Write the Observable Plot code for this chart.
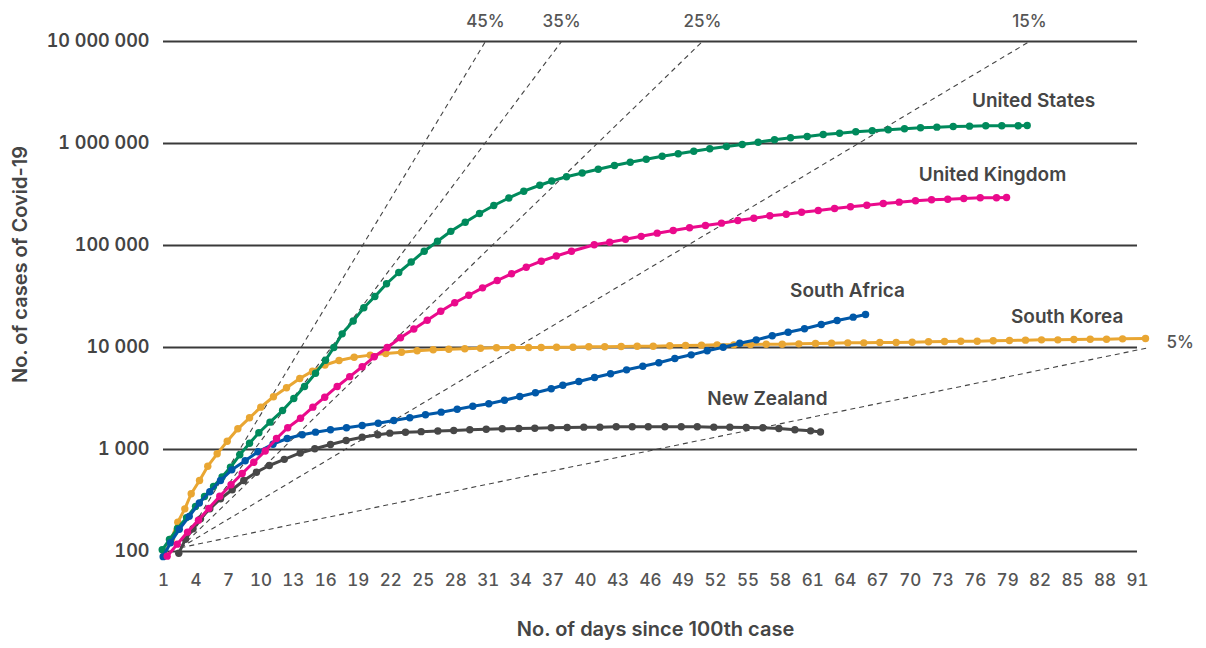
<!DOCTYPE html>
<html>
<head>
<meta charset="utf-8">
<script src="https://cdn.jsdelivr.net/npm/d3@7"></script>
<script src="https://cdn.jsdelivr.net/npm/@observablehq/plot@0.6"></script>
<style>
  html, body { margin: 0; padding: 0; background: #fff; }
  #chart svg { display: block; }
</style>
</head>
<body>
<div id="chart"></div>
<script>
// ---------- data ----------
const countries = ["New Zealand", "South Korea", "United States", "South Africa", "United Kingdom"];
const colors    = ["#474747", "#e9a632", "#008a5c", "#0058a8", "#ea0a8c"];

const usDays = [0.88,1.55,2.29,3.13,3.96,4.79,5.62,6.41,7.19,8.05,8.95,9.81,10.84,12.00,13.04,14.03,15.05,15.97,16.74,17.51,18.53,19.51,20.53,21.61,22.74,23.89,25.09,26.32,27.55,28.88,30.20,31.52,32.91,34.29,35.77,36.88,38.24,39.69,41.17,42.67,44.13,45.61,47.08,48.56,50.00,51.48,53.02,54.48,55.95,57.46,58.94,60.48,61.96,63.47,64.97,66.49,67.97,69.47,70.95,72.46,73.97,75.48,76.98,78.46,79.98,80.81];
const usCases = [104,131,168,215,276,346,434,537,670,887,1153,1459,1854,2410,3162,4150,5600,7500,10000,13610,18200,24490,31620,42170,54340,68850,87900,110200,137700,169100,206000,246700,292400,340800,389900,428700,471800,514100,560000,608300,654600,700300,750500,792700,840800,887800,935700,977900,1030000,1087000,1138000,1172000,1225000,1262000,1303000,1333000,1363000,1394000,1426000,1446000,1469000,1479000,1493000,1493000,1493000,1500000];

const ukDays = [1.34,2.27,3.22,4.23,5.19,6.20,7.24,8.27,9.34,10.40,11.44,12.48,13.66,14.80,15.90,17.05,18.21,19.36,20.47,21.67,22.90,24.13,25.37,26.62,27.91,29.21,30.48,31.84,33.16,34.52,35.91,37.30,38.70,40.80,42.23,43.69,45.14,46.62,48.10,49.61,51.08,52.56,54.07,55.55,57.03,58.54,59.96,61.50,63.01,64.48,65.99,67.51,68.98,70.49,71.97,73.47,74.95,76.47,77.97,78.90];
const ukCases = [90,118,155,203,265,348,452,582,750,966,1282,1636,2028,2600,3258,4150,5176,6471,8110,10000,12450,15180,18530,22700,27480,32510,38460,45380,52840,61240,70150,78880,87900,101600,107700,115000,123000,132100,140300,149300,157100,165600,175800,185300,195500,202800,212000,220300,230600,239600,248500,258200,266100,274200,280600,284500,289100,293800,293800,295800];

const skDays = [1.09,1.74,2.32,2.97,3.56,4.33,5.09,5.96,6.89,7.87,8.95,9.99,11.16,12.37,13.59,14.77,15.92,17.22,18.62,20.10,21.54,22.99,24.44,25.92,27.36,28.84,30.29,31.77,33.25,34.73,35.90,37.32,38.84,40.30,41.77,43.29,44.77,46.25,47.78,49.24,50.71,52.16,53.70,55.24,56.69,58.17,59.71,61.25,62.73,64.23,65.71,67.19,68.70,70.18,71.69,73.17,74.67,76.19,77.67,79.17,80.65,82.13,83.64,85.12,86.63,88.14,89.62,91.74];
const skCases = [94,133,194,262,368,497,686,907,1206,1596,2046,2600,3289,4027,4966,5861,6734,7459,8017,8420,8730,8990,9306,9490,9622,9712,9847,9937,10000,10000,10000,10045,10068,10160,10160,10230,10300,10300,10395,10470,10540,10620,10620,10690,10770,10770,10860,10940,11010,11110,11110,11190,11190,11270,11370,11450,11530,11530,11640,11720,11800,11890,11890,11980,12060,12060,12160,12250];

const saDays = [0.97,1.65,2.46,3.38,4.31,5.28,6.27,7.31,8.55,9.73,11.12,12.43,13.82,15.05,16.43,17.91,19.36,20.84,22.28,23.76,25.21,26.66,28.14,29.58,31.06,32.51,33.92,35.37,36.83,37.90,39.38,40.83,42.31,43.79,45.29,46.77,48.25,49.76,51.24,52.72,54.25,55.77,57.25,58.72,60.23,61.78,63.25,64.73,65.87];
const saCases = [89,122,165,221,299,385,497,632,775,951,1127,1282,1397,1479,1561,1633,1718,1811,1923,2046,2193,2323,2479,2653,2813,3043,3311,3597,3938,4269,4642,5078,5521,6040,6556,7080,7800,8475,9290,10070,11020,11890,13030,14130,15250,16790,18390,19830,21080];

const nzDays = [2.41,3.03,3.73,4.42,5.28,6.27,7.35,8.42,9.59,10.78,12.16,13.63,14.98,16.43,17.88,19.36,20.80,21.91,23.36,24.81,26.35,27.82,29.30,30.82,32.30,33.83,35.31,36.83,38.30,39.84,41.32,42.83,44.31,45.79,47.33,48.84,50.32,51.85,53.33,54.85,56.38,57.86,59.34,60.79,61.71];
const nzCases = [96,132,167,209,262,329,403,497,599,697,801,925,1017,1119,1225,1321,1395,1446,1476,1497,1518,1535,1560,1578,1596,1607,1618,1633,1644,1656,1656,1671,1671,1671,1671,1671,1671,1656,1656,1644,1633,1607,1564,1524,1485];

// growth-rate guide lines (start and end)
const guideLabels   = ["45%", "35%", "25%", "15%", "5%"];
const guideStartDay = 2.57, guideStartCases = 109;
const guideEndDays  = [30.75, 37.78, 50.80, 81.02, 92.11];
const guideEndCases = [1e7, 1e7, 1e7, 1e7, 1e4];

// series end labels
const labelText  = ["United States", "United Kingdom", "South Africa", "South Korea", "New Zealand"];
const labelDays  = [81.4, 77.6, 64.2, 84.5, 56.8];
const labelCases = [2640000, 497000, 36200, 20100, 3160];

const xTicks = [1,4,7,10,13,16,19,22,25,28,31,34,37,40,43,46,49,52,55,58,61,64,67,70,73,76,79,82,85,88,91];
const yTicks = [100, 1000, 10000, 100000, 1000000, 10000000];

// ---------- build tables ----------
const seriesDays  = {"United States": usDays, "United Kingdom": ukDays, "South Korea": skDays, "South Africa": saDays, "New Zealand": nzDays};
const seriesCases = {"United States": usCases, "United Kingdom": ukCases, "South Korea": skCases, "South Africa": saCases, "New Zealand": nzCases};
const rowsFor = c => seriesDays[c].map((d, i) => ({country: c, day: d, cases: seriesCases[c][i]})).filter(r => r.cases != null);

const guides = guideLabels.map((l, i) => ({label: l, x1: guideStartDay, y1: guideStartCases, x2: guideEndDays[i], y2: guideEndCases[i]}));
const labels = labelText.map((t, i) => ({text: t, day: labelDays[i], cases: labelCases[i]}));

const FONT = "Inter, 'Open Sans', sans-serif";
const fmt = d => d3.format(",")(d).replace(/,/g, " ");

const seriesMarks = countries.flatMap(c => {
  const rows = rowsFor(c);
  return [
    Plot.line(rows, {x: "day", y: "cases", stroke: "country", strokeWidth: 3, curve: "linear"}),
    Plot.dot(rows, {x: "day", y: "cases", fill: "country", r: 3.7, stroke: "none"})
  ];
});

const chart = Plot.plot({
  width: 1206,
  height: 648,
  marginLeft: 163,
  marginRight: 69,
  marginTop: 41,
  marginBottom: 97,
  x: {domain: [1, 91]},
  y: {type: "log", domain: [100, 1e7]},
  color: {domain: countries, range: colors},
  style: {fontFamily: FONT, background: "#fff", color: "#444", overflow: "visible"},
  marks: [
    Plot.ruleY(yTicks, {stroke: "#3a3a3a", strokeWidth: 1.8}),
    Plot.link(guides, {x1: "x1", y1: "y1", x2: "x2", y2: "y2", stroke: "#444", strokeWidth: 1.1, strokeDasharray: "5,4"}),
    Plot.text(guides.filter(g => g.y2 >= 1e7), {x: "x2", y: "y2", text: "label", dy: -20, fontSize: 17, fill: "#555", fontWeight: 500, ariaLabel: "pct-labels"}),
    Plot.text(guides.filter(g => g.y2 < 1e7), {x: "x2", y: "y2", text: "label", dx: 17, dy: -5, textAnchor: "start", fontSize: 17, fill: "#555", fontWeight: 500, ariaLabel: "pct-labels"}),
    ...seriesMarks,
    Plot.text(labels, {x: "day", y: "cases", text: "text", fontSize: 19, fontWeight: 600, fill: "#454545", ariaLabel: "series-labels"}),
    Plot.axisX({ticks: xTicks, tickSize: 0, tickPadding: 22, fontSize: 17, fontWeight: 500, fill: "#555", label: null, tickFormat: d => String(d)}),
    Plot.axisY({ticks: yTicks, tickSize: 0, tickPadding: 14, fontSize: 18, fontWeight: 600, fill: "#444", label: null, tickFormat: fmt}),
    Plot.text(["No. of days since 100th case"], {frameAnchor: "bottom", dx: 5, dy: 84, fontSize: 20, fontWeight: 600, fill: "#454545", ariaLabel: "axis-title-x"}),
    Plot.text(["No. of cases of Covid-19"], {frameAnchor: "left", textAnchor: "middle", rotate: -90, dx: -143, dy: -32, fontSize: 20, fontWeight: 600, fill: "#454545", ariaLabel: "axis-title-y"})
  ]
});

// Montserrat-like wider tracking
d3.select(chart).selectAll('g[aria-label="series-labels"] text').style("letter-spacing", "1px");
d3.select(chart).selectAll('g[aria-label="axis-title-x"] text').style("letter-spacing", "0.9px");
d3.select(chart).selectAll('g[aria-label="axis-title-y"] text').style("letter-spacing", "0.4px");
d3.select(chart).selectAll('g[aria-label="pct-labels"] text').style("letter-spacing", "0.3px");

document.getElementById("chart").appendChild(chart);
</script>
</body>
</html>
